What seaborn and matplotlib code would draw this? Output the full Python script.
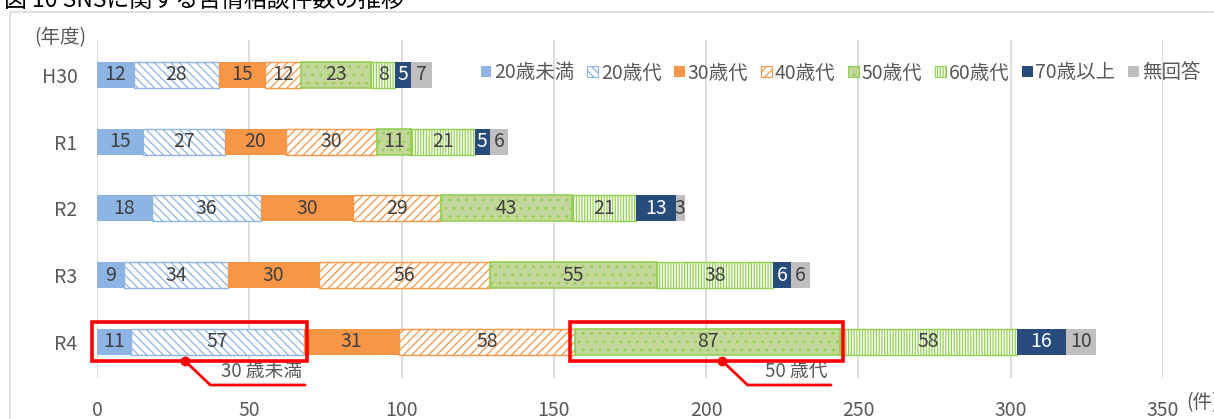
import numpy as np
import pandas as pd
import matplotlib
matplotlib.use("Agg")
import matplotlib.pyplot as plt
import seaborn as sns
from matplotlib.patches import Rectangle, Patch
from matplotlib.lines import Line2D

# ---------------- data ----------------
years = ["H30", "R1", "R2", "R3", "R4"]
groups = ["20歳未満", "20歳代", "30歳代", "40歳代", "50歳代", "60歳代", "70歳以上", "無回答"]
under20 = [12, 15, 18, 9, 11]
age20s = [28, 27, 36, 34, 57]
age30s = [15, 20, 30, 30, 31]
age40s = [12, 30, 29, 56, 58]
age50s = [23, 11, 43, 55, 87]
age60s = [8, 21, 21, 38, 58]
over70 = [5, 5, 13, 6, 16]
no_answer = [7, 6, 3, 6, 10]
x_ticks = [0, 50, 100, 150, 200, 250, 300, 350]
title = "図 10 SNSに関する苦情相談件数の推移"
callout_labels = ["30 歳未満", "50 歳代"]

series = [under20, age20s, age30s, age40s, age50s, age60s, over70, no_answer]

# ---------------- styles ----------------
BLUE = "#8DB4E2"
ORANGE = "#F79646"
GREEN_FILL = "#C4D79B"
GREEN = "#92D050"
NAVY = "#274B7A"
GRAY = "#BFBFBF"
TXT = "#404040"
styles = [
    dict(face=BLUE, edge=BLUE, hatch=None, lw=0, tc=TXT),
    dict(face="white", edge=BLUE, hatch="\\\\\\\\", lw=1.0, tc=TXT),
    dict(face=ORANGE, edge=ORANGE, hatch=None, lw=0, tc=TXT),
    dict(face="white", edge=ORANGE, hatch="////", lw=1.0, tc=TXT),
    dict(face=GREEN_FILL, edge=GREEN, hatch="..", lw=1.2, tc=TXT),
    dict(face="white", edge=GREEN, hatch="||||||", lw=1.0, tc=TXT),
    dict(face=NAVY, edge=NAVY, hatch=None, lw=0, tc="white"),
    dict(face=GRAY, edge=GRAY, hatch=None, lw=0, tc=TXT),
]

sns.set_theme(style="white")
plt.rcParams["font.family"] = ["Noto Sans CJK JP", "DejaVu Sans"]
plt.rcParams["hatch.linewidth"] = 0.9

W, H = 1214, 419
fig = plt.figure(figsize=(W / 100, H / 100), dpi=100)
ax = fig.add_axes([97 / W, 1 - 378 / H, (1163 - 97) / W, (378 - 40) / H])

FS = 14
lefts = np.zeros(len(years))
for vals, name, st in zip(series, groups, styles):
    df = pd.DataFrame({"year": years, "count": vals})
    sns.barplot(data=df, y="year", x="count", order=years, orient="y",
                color=st["face"], saturation=1, width=0.39, left=lefts.copy(),
                ax=ax, errorbar=None)
    cont = ax.containers[-1]
    for p in cont:
        p.set_facecolor(st["face"])
        p.set_edgecolor(st["edge"])
        p.set_linewidth(st["lw"])
        if st["hatch"]:
            p.set_hatch(st["hatch"])
    ax.bar_label(cont, labels=[str(v) for v in vals], label_type="center",
                 color=st["tc"], fontsize=FS)
    lefts += np.array(vals)

ax.set_xlim(x_ticks[0], x_ticks[-1])
ax.set_ylim(4.54, -0.52)
ax.set_xticks(x_ticks)
ax.set_xlabel("")
ax.set_ylabel("")
for s in ax.spines.values():
    s.set_visible(False)
ax.xaxis.grid(True, color="#D9D9D9", lw=1.3)
ax.yaxis.grid(False)
ax.set_axisbelow(True)
ax.tick_params(axis="x", length=0, pad=16, labelsize=FS, labelcolor="#595959")
ax.tick_params(axis="y", length=0, pad=14, labelsize=FS, labelcolor="#595959")

# legend
handles = []
for name, st in zip(groups, styles):
    handles.append(Patch(facecolor=st["face"], edgecolor=st["edge"],
                         hatch=st["hatch"], linewidth=0.8 if st["lw"] else 0,
                         label=name))
fig.legend(handles=handles, loc="center left",
           bbox_to_anchor=(471 / W, 1 - 73 / H), ncol=8, frameon=False,
           fontsize=FS, handlelength=0.55, handleheight=0.55, handletextpad=0.15,
           columnspacing=0.65, borderpad=0, labelcolor="#595959")

# red call-out boxes around R4 segments
RED = "#FF0000"
r4 = len(years) - 1
cum_r4 = np.cumsum([s[r4] for s in series])
box_spans = [(0, cum_r4[1]), (cum_r4[3], cum_r4[4])]
dot_x = [28.9, 205.3]
for (x0, x1), dx, lab in zip(box_spans, dot_x, callout_labels):
    ax.add_patch(Rectangle((x0 - 1.8, r4 - 0.30), (x1 - x0) + 2.6, 0.585,
                           fill=False, edgecolor=RED, lw=2.6, clip_on=False,
                           zorder=6))
    yb = r4 + 0.285
    yl = r4 + 0.645
    xe = x1 + 0.3 if x0 == 0 else x1 - 3
    ax.add_line(Line2D([dx, dx + 8.3, xe], [yb, yl, yl], color=RED, lw=2.0,
                       clip_on=False, zorder=6))
    ax.plot([dx], [yb], "o", color=RED, ms=6, clip_on=False, zorder=7)
    ax.text(xe - 1, yl - 0.04, lab, ha="right", va="bottom", fontsize=FS - 0.5,
            color="#595959", clip_on=False)

# frame, title and unit labels
fig.patches.append(Rectangle((10 / W, -0.1), 1.2, 1.1 - 12 / H, transform=fig.transFigure,
                             fill=False, edgecolor="#D9D9D9", lw=1.2))
fig.text(4 / W, 1 - 7 / H, title, ha="left", va="baseline", fontsize=16.5, color="#000000")
fig.text(60 / W, 1 - 38 / H, "(年度)", ha="center", va="center", fontsize=FS, color="#595959")
fig.text(1186 / W, 1 - 403 / H, "(件)", ha="left", va="center", fontsize=FS, color="#595959")

fig.savefig("out.png", dpi=100)
